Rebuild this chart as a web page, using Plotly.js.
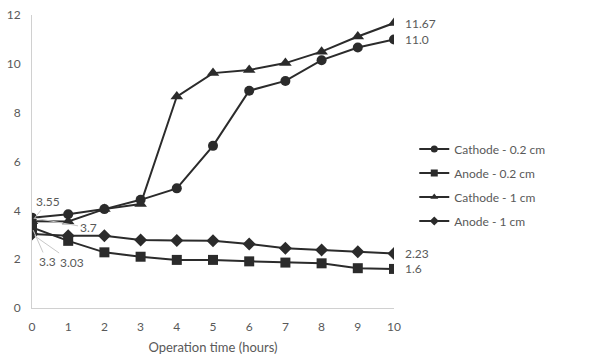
<!DOCTYPE html>
<html>
<head>
<meta charset="utf-8">
<script src="https://cdn.plot.ly/plotly-3.0.1.min.js"></script>
<style>
  html, body { margin: 0; padding: 0; background: #fff; }
  #chart { width: 593px; height: 356px; }
</style>
</head>
<body>
<div id="chart"></div>
<script>
// Operation time (hours)
const hours = [0, 1, 2, 3, 4, 5, 6, 7, 8, 9, 10];

// Measured values per electrode and spacing
const cathode02 = [3.7, 3.84, 4.05, 4.43, 4.9, 6.64, 8.9, 9.3, 10.15, 10.67, 11.0];
const anode02   = [3.3, 2.75, 2.28, 2.1, 1.97, 1.97, 1.91, 1.86, 1.83, 1.63, 1.6];
const cathode1  = [3.55, 3.54, 4.05, 4.26, 8.66, 9.62, 9.75, 10.03, 10.5, 11.12, 11.67];
const anode1    = [3.03, 2.96, 2.96, 2.79, 2.76, 2.75, 2.62, 2.45, 2.38, 2.3, 2.23];

const seriesNames = ['Cathode - 0.2 cm', 'Anode - 0.2 cm', 'Cathode - 1 cm', 'Anode - 1 cm'];
const seriesValues = [cathode02, anode02, cathode1, anode1];
const seriesSymbols = ['circle', 'square', 'triangle-up', 'diamond'];
const seriesSizes = [10, 10, 11, 10];

const lineColor = '#2b2b2b';
const textColor = '#595959';
const fontFamily = 'Lato, "Open Sans", sans-serif';

// Plotted series (legend entries are drawn separately with smaller keys)
const traces = seriesValues.map((vals, i) => ({
  x: hours,
  y: vals,
  name: seriesNames[i],
  type: 'scatter',
  mode: 'lines+markers',
  showlegend: false,
  line: { color: lineColor, width: 2 },
  marker: { symbol: seriesSymbols[i], size: seriesSizes[i], color: lineColor }
}));

// Legend keys: same styling, smaller marker
const legendKeys = seriesNames.map((name, i) => ({
  x: [null],
  y: [null],
  name: name,
  type: 'scatter',
  mode: 'lines+markers',
  legendgroup: 'g' + i,
  line: { color: lineColor, width: 2 },
  marker: { symbol: seriesSymbols[i], size: 7, color: lineColor }
}));

const last = hours.length - 1;

// Value labels at the end of each series
const endLabels = seriesValues.map(vals => ({
  x: hours[last], y: vals[last], xref: 'x', yref: 'y',
  text: vals === cathode02 ? vals[last].toFixed(1) : String(vals[last]),
  showarrow: false, xanchor: 'left', xshift: 9,
  font: { family: fontFamily, size: 12, color: textColor }
}));

// Value labels at the start, moved off the crowded origin with leader lines
const startOffsets = [
  { vals: cathode02, ax: 56, ay: 10 },
  { vals: cathode1, ax: 16, ay: -20 },
  { vals: anode02, ax: 15, ay: 34 },
  { vals: anode1, ax: 40, ay: 28 }
];
const startLabels = startOffsets.map(o => ({
  x: hours[0], y: o.vals[0], xref: 'x', yref: 'y',
  text: String(o.vals[0]),
  showarrow: true, arrowhead: 0, arrowwidth: 1, arrowcolor: '#c8c8c8',
  ax: o.ax, ay: o.ay, standoff: 3,
  font: { family: fontFamily, size: 12, color: textColor }
}));

const layout = {
  width: 593,
  height: 356,
  margin: { l: 32, r: 199, t: 15, b: 48 },
  paper_bgcolor: '#ffffff',
  plot_bgcolor: '#ffffff',
  font: { family: fontFamily, size: 12, color: textColor },
  showlegend: true,
  legend: {
    x: 1.056, xanchor: 'left',
    y: 0.42, yanchor: 'middle',
    font: { family: fontFamily, size: 12, color: textColor },
    tracegroupgap: 5,
    traceorder: 'grouped',
    itemwidth: 30,
    bgcolor: 'rgba(0,0,0,0)'
  },
  xaxis: {
    range: [0, 10],
    tickvals: hours,
    ticktext: hours.map(String),
    showgrid: false,
    zeroline: false,
    showline: true,
    linecolor: '#d0d0d0',
    linewidth: 1,
    ticks: '',
    ticklabelstandoff: 8,
    tickfont: { family: fontFamily, size: 12, color: textColor },
    title: { text: 'Operation time (hours)', font: { family: fontFamily, size: 13, color: textColor }, standoff: 9 }
  },
  yaxis: {
    range: [0, 12],
    tickvals: [0, 2, 4, 6, 8, 10, 12],
    showgrid: false,
    zeroline: false,
    showline: true,
    linecolor: '#d0d0d0',
    linewidth: 1,
    ticks: '',
    ticklabelstandoff: 8,
    tickfont: { family: fontFamily, size: 12, color: textColor }
  },
  annotations: endLabels.concat(startLabels)
};

Plotly.newPlot('chart', traces.concat(legendKeys), layout, { displayModeBar: false, staticPlot: true });
</script>
</body>
</html>
